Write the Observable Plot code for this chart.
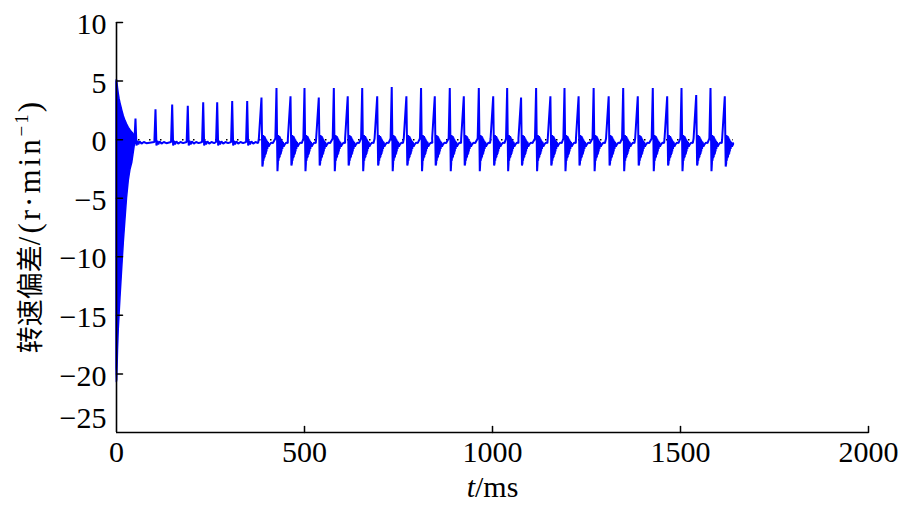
<!DOCTYPE html>
<html>
<head>
<meta charset="utf-8">
<script src="https://cdn.jsdelivr.net/npm/d3@7"></script>
<script src="https://cdn.jsdelivr.net/npm/@observablehq/plot@0.6"></script>
<style>
  html, body { margin: 0; padding: 0; background: #fff; }
</style>
</head>
<body>
<div id="chart"></div>
<script>
// ---- axis ticks ----
const xTicks = [0, 500, 1000, 1500, 2000];
const yTicks = [10, 5, 0, -5, -10, -15, -20, -25];

// ---- initial transient envelope (t in ms, speed deviation in r/min) ----
const envT    = [0, 1, 2, 4, 6, 8, 10.6, 13, 15.2, 19.4, 23.9, 28, 32.7, 37, 41.8, 45, 48.7];
const envHigh = [4.9, 5.1, 5.0, 4.4, 3.9, 3.5, 3.1, 2.8, 2.5, 2.0, 1.6, 1.3, 1.0, 0.8, 0.6, 0.5, 0.3];
const envLow  = [-19.5, -20.7, -20.5, -18, -16.2, -15, -13.5, -12.2, -11, -8.8, -6.8, -5, -3.5, -2.6, -2.0, -1.3, -0.5];

// ---- early (small) pulses ----
const quietTimes = [50.5, 103.7, 148.1, 189.6, 230.6, 267.8, 307.7, 347.6];
const quietPeaks = [1.8, 2.6, 3.0, 2.9, 3.2, 3.2, 3.3, 3.3];
const quietDt = [2.5, 4.5, 7.5, 11, 16, 22, 29];
const quietV  = [-0.5, -0.1, -0.4, -0.15, -0.35, -0.2, -0.3];

// ---- later (large) pulses ----
const loudTimes = [385.6, 425.5, 462.8, 500, 538, 578, 615, 653.5, 693.4, 732, 771, 810, 846.5, 886.4, 923.7, 963.6, 1001.9, 1039, 1076, 1116, 1154, 1191.5, 1229, 1269, 1309, 1347.6, 1386.4, 1426.3, 1464.6, 1502.7, 1541.8, 1579.8, 1617.8];
const loudPeaks = [3.6, 4.4, 3.7, 4.4, 3.6, 4.4, 3.7, 4.4, 3.7, 4.5, 3.7, 4.4, 3.7, 4.4, 3.7, 4.4, 3.7, 4.4, 3.6, 4.4, 3.7, 4.4, 3.7, 4.4, 3.7, 4.4, 3.7, 4.4, 3.7, 4.4, 3.8, 4.4, 3.7];
const loudTroughs = [-2.3, -2.7, -2.2, -2.7, -2.2, -2.7, -2.2, -2.7, -2.2, -2.7, -2.2, -2.7, -2.2, -2.7, -2.2, -2.7, -2.2, -2.7, -2.2, -2.7, -2.2, -2.7, -2.2, -2.7, -2.2, -2.7, -2.2, -2.7, -2.2, -2.7, -2.2, -2.7, -2.3];
const ringDt = [3.8, 4.6, 5.4, 6.2, 7, 7.8, 8.6, 9.4, 10.2, 11, 11.8, 12.6, 13.4, 14.5, 15.5, 17, 19, 22, 26, 30];
const ringV  = [-2.0, 0.4, -1.8, 0.3, -1.6, 0.3, -1.5, 0.2, -1.3, 0.1, -1.2, 0.0, -1.0, -0.1, -0.8, -0.2, -0.6, -0.4, -0.25, -0.3];
const endT = 1640, endV = -0.3;

// ---- build tables ----
const envelope = envT.map((t, i) => ({t, lo: envLow[i], hi: envHigh[i]}));
let pts = [{t: 48.7, v: -0.3}];
quietTimes.forEach((tp, i) => {
  pts.push({t: tp - 3, v: -0.2}, {t: tp, v: quietPeaks[i]});
  quietDt.forEach((d, j) => pts.push({t: tp + d, v: quietV[j]}));
});
loudTimes.forEach((tp, i) => {
  const tall = loudPeaks[i] > 4;
  pts.push({t: tp - (tall ? 3 : 7), v: 0.1}, {t: tp, v: loudPeaks[i]}, {t: tp + (tall ? 2.6 : 2.4), v: loudTroughs[i]});
  ringDt.forEach((d, j) => pts.push({t: tp + d, v: ringV[j]}));
});
pts = pts.filter(p => p.t < endT);
pts.push({t: endT, v: endV});

const fmt = d => d < 0 ? "\u2212" + (-d) : String(d);
const tickShape = {draw(ctx, l) { ctx.moveTo(0, 0); ctx.lineTo(0, -l); }};
const blue = "#0000ff";
const serif = "'Liberation Serif', 'Times New Roman', 'Noto Sans CJK SC', serif";

const chart = Plot.plot({
  width: 900,
  height: 505,
  marginLeft: 116,
  marginRight: 32,
  marginTop: 22,
  marginBottom: 73,
  x: {domain: [0, 2000], axis: null},
  y: {domain: [-25, 10], axis: null},
  style: {fontFamily: serif, fontSize: "30px", background: "#fff", color: "#000"},
  marks: [
    Plot.ruleY([0], {x1: 0, x2: endT, stroke: "#000", strokeWidth: 1.5, strokeDasharray: "1.5,9.5"}),
    Plot.areaY(envelope, {x: "t", y1: "lo", y2: "hi", fill: blue, stroke: blue, strokeWidth: 1.5}),
    Plot.line(pts, {x: "t", y: "v", stroke: blue, strokeWidth: 2, strokeLinejoin: "miter"}),
    Plot.ruleX([0], {stroke: "#000", strokeWidth: 1.6}),
    Plot.ruleY([-25], {stroke: "#000", strokeWidth: 1.6}),
    Plot.vector(xTicks.slice(1), {x: d => d, y: -25, length: 6, rotate: 0, anchor: "start", shape: tickShape, stroke: "#000", strokeWidth: 1.5}),
    Plot.vector(yTicks.slice(0, -1), {x: 0, y: d => d, length: 6, rotate: 90, anchor: "start", shape: tickShape, stroke: "#000", strokeWidth: 1.5}),
    Plot.text(xTicks, {x: d => d, y: -25, dy: 20, text: d => fmt(d), fontSize: 30, fill: "#000"}),
    Plot.text(yTicks.slice(0, -1), {x: 0, y: d => d, dx: -10, dy: 2, textAnchor: "end", text: d => fmt(d), fontSize: 30, fill: "#000"}),
    Plot.text(yTicks.slice(-1), {x: 0, y: d => d, dx: -10, dy: -14, textAnchor: "end", text: d => fmt(d), fontSize: 30, fill: "#000"}),
    Plot.text(["t/ms"], {frameAnchor: "bottom", dy: 55, textAnchor: "middle", lineAnchor: "middle", fontSize: 30, fill: "#000"}),
    Plot.text(["转速偏差/(r·min−1)"], {frameAnchor: "left", dx: -86, rotate: -90, textAnchor: "middle", lineAnchor: "middle", fontSize: 31, fill: "#000"})
  ]
});

document.getElementById("chart").appendChild(chart);

// rich text for the axis titles
d3.select(chart).selectAll("text").each(function() {
  const el = d3.select(this);
  const s = this.textContent;
  if (s === "t/ms") {
    el.text(null);
    el.append("tspan").attr("font-style", "italic").text("t");
    el.append("tspan").text("/ms");
  } else if (s === "转速偏差/(r·min−1)") {
    el.text(null);
    el.append("tspan").attr("font-size", 27).attr("font-family", "'Noto Sans CJK SC', sans-serif").text("转速偏差");
    el.append("tspan").attr("letter-spacing", 3).text("/(r·min");
    el.append("tspan").attr("font-size", 19).attr("dy", -12).attr("letter-spacing", 2).text("−1");
    el.append("tspan").attr("dy", 12).text(")");
  }
});
</script>
</body>
</html>
